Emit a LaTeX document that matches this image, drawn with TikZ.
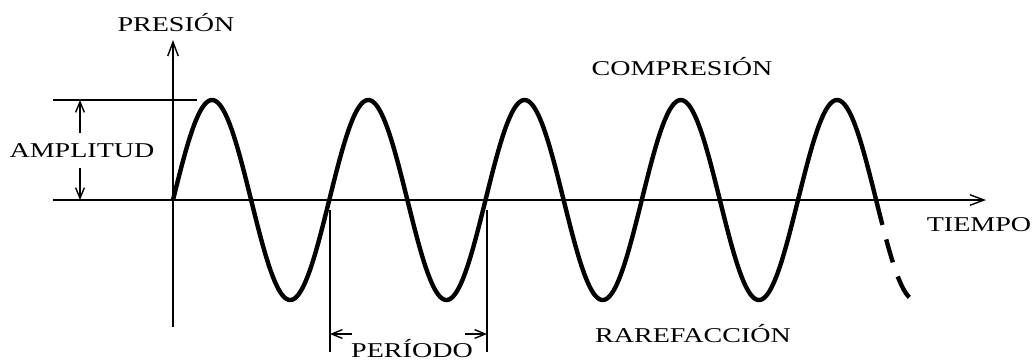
\documentclass[tikz,border=0pt]{standalone}
\usepackage{fontspec}
\setmainfont{Liberation Serif}[FakeStretch=1.33]
\usetikzlibrary{arrows.meta}
\begin{document}
\begin{tikzpicture}[x=0.02cm,y=-0.02cm,
  axis/.style={line width=0.8pt, black},
  wave/.style={line width=2.5pt, line join=round, black},
  lbl/.style={inner sep=0pt, anchor=base, font=\fontsize{12}{14}\selectfont},
  bigarrow/.style={-{Straight Barb[length=8pt,width=6pt,line width=0.8pt]}},
  smallarrow/.style={-{Straight Barb[length=6pt,width=5pt,line width=0.8pt]}}]
\path[use as bounding box, fill=white] (0,0) rectangle (1034,360);
% axes
\coordinate (O) at (173,200);
\coordinate (ytop) at (173,40);
\coordinate (ybot) at (173,327);
\coordinate (xl) at (53,200);
\coordinate (xr) at (986,200);
\draw[axis,bigarrow] (ybot) -- (ytop);
\draw[axis,bigarrow] (xl) -- (xr);
% amplitude
\coordinate (al) at (53,100);
\coordinate (ar) at (197,100);
\draw[axis] (al) -- (ar);
\coordinate (a1) at (80,133);
\coordinate (a1t) at (80,100);
\coordinate (a2) at (80,168);
\coordinate (a2t) at (80,200);
\draw[axis,smallarrow] (a1) -- (a1t);
\draw[axis,smallarrow] (a2) -- (a2t);
% period
\coordinate (p1t) at (330,210);
\coordinate (p1b) at (330,352);
\coordinate (p2t) at (487,210);
\coordinate (p2b) at (487,352);
\draw[axis] (p1t) -- (p1b);
\draw[axis] (p2t) -- (p2b);
\coordinate (pa1) at (352,334);
\coordinate (pa1t) at (330,334);
\coordinate (pa2) at (465,334);
\coordinate (pa2t) at (487,334);
\draw[axis,smallarrow] (pa1) -- (pa1t);
\draw[axis,smallarrow] (pa2) -- (pa2t);
% wave
\draw[wave] plot[domain=0:709.4, samples=500] ({173+\x},{200-100*sin(2.304*\x)});
\draw[wave, dash pattern=on 13.6pt off 8.5pt, dash phase=13.6pt] plot[domain=709.4:737, samples=40] ({173+\x},{200-100*sin(2.304*\x)});
% labels
\node[lbl] (presion) at (176,31) {PRESIÓN};
\node[lbl] (amplitud) at (82,157) {AMPLITUD};
\node[lbl] (compresion) at (682,75) {COMPRESIÓN};
\node[lbl] (rarefaccion) at (693,342) {RAREFACCIÓN};
\node[lbl] (tiempo) at (979,231) {TIEMPO};
\node[lbl] (periodo) at (412,357) {PERÍODO};
\end{tikzpicture}
\end{document}
